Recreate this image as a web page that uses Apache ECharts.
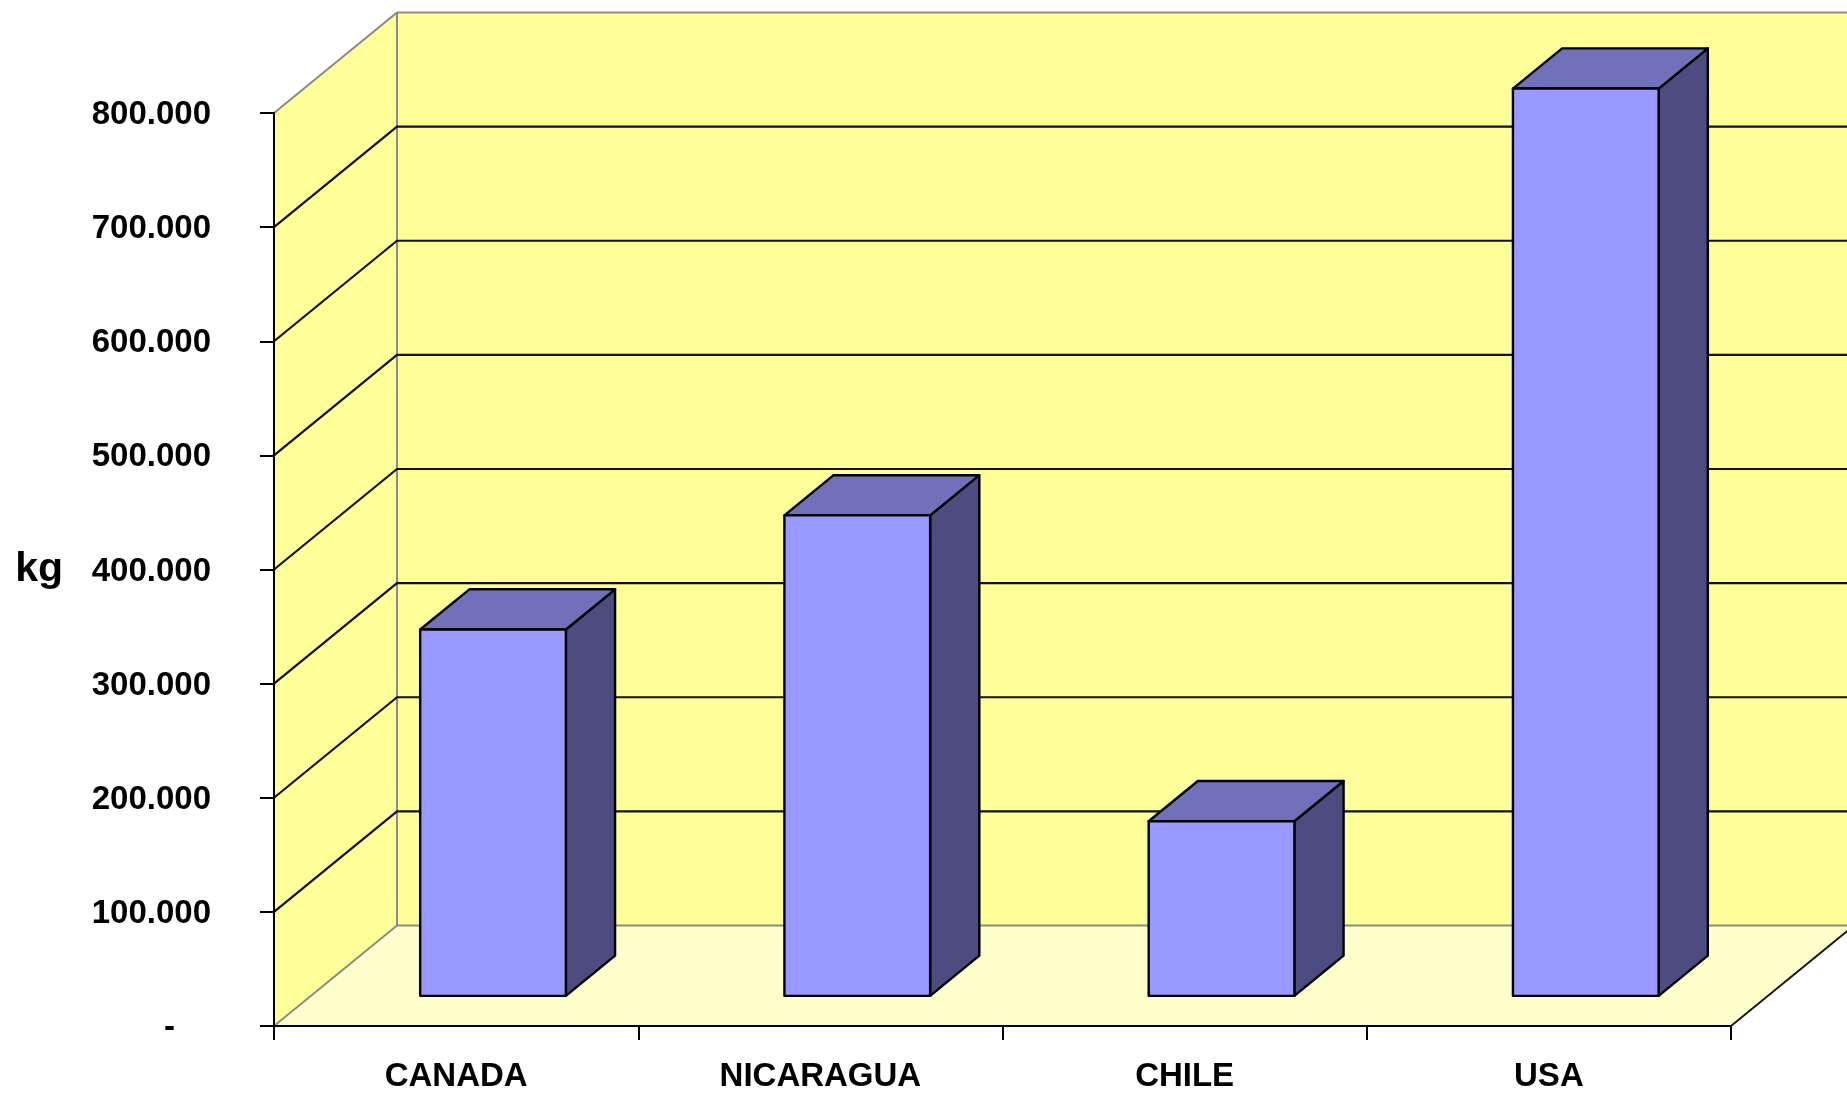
<!DOCTYPE html>
<html>
<head>
<meta charset="utf-8">
<script src="https://cdn.jsdelivr.net/npm/echarts@6/dist/echarts.min.js"></script>
<style>
html,body{margin:0;padding:0;background:#fff;}
#chart{width:1847px;height:1093px;}
</style>
</head>
<body>
<div id="chart"></div>
<script>
// ---- data ----
const categories = ['CANADA', 'NICARAGUA', 'CHILE', 'USA'];
const values = [321000, 421000, 153000, 795000];
const yTicks = [0, 100000, 200000, 300000, 400000, 500000, 600000, 700000, 800000];
const yAxisName = 'kg';

// ---- styling / layout constants ----
const DEPTH = [123, -100.5];      // 3D depth vector of the plot box (px)
const BAR_FRONT = 0.3, BAR_BACK = 0.7, BAR_W = 0.4;
const FONT = '"Liberation Sans", Arial, sans-serif';

function fmt(v) {
  return String(v).replace(/\B(?=(\d{3})+(?!\d))/g, '.');
}

const chart = echarts.init(document.getElementById('chart'), null, {renderer: 'canvas'});

const option = {
  backgroundColor: '#ffffff',
  animation: false,
  grid: {left: 274, right: 116, top: 113, bottom: 66, containLabel: false},
  xAxis: {
    type: 'category',
    data: categories,
    boundaryGap: true,
    z: 10,
    axisLine: {show: true, lineStyle: {color: '#000', width: 2}},
    axisTick: {show: true, length: 14, inside: false, lineStyle: {color: '#000', width: 2}},
    axisLabel: {color: '#000', fontSize: 33, fontWeight: 'bold', fontFamily: FONT, margin: 34},
    splitLine: {show: false}
  },
  yAxis: {
    type: 'value',
    min: 0, max: 800000, interval: 100000,
    z: 10,
    name: yAxisName,
    nameLocation: 'middle',
    nameRotate: 0,
    nameGap: 211,
    nameTextStyle: {color: '#000', fontSize: 41, fontWeight: 'bold', fontFamily: FONT, padding: [6, 0, 0, 0]},
    axisLine: {show: true, lineStyle: {color: '#000', width: 2}},
    axisTick: {show: true, length: 14, inside: false, lineStyle: {color: '#000', width: 2}},
    axisLabel: {
      color: '#000', fontSize: 33, fontWeight: 'bold', fontFamily: FONT, margin: 63,
      padding: [4, 0, 0, 0],
      formatter: function (v) { return v === 0 ? '{z|-}' : fmt(v); },
      rich: {z: {color: '#000', fontSize: 33, fontWeight: 'bold', fontFamily: FONT, padding: [0, 36, 0, 0]}}
    },
    splitLine: {show: false}
  },
  series: [
    {
      // walls and floor
      type: 'custom',
      z: 1,
      silent: true,
      data: [[0, 0]],
      renderItem: function (params, api) {
        const cs = params.coordSys;
        const x0 = cs.x, x1 = cs.x + cs.width;
        const yb = api.coord([0, yTicks[0]])[1];
        const yt = api.coord([0, yTicks[yTicks.length - 1]])[1];
        const dx = DEPTH[0], dy = DEPTH[1];
        const gray = '#8a8a8a';
        return {
          type: 'group',
          children: [
            {type: 'polygon', shape: {points: [[x0 + dx, yt + dy], [x1 + dx + 20, yt + dy], [x1 + dx + 20, yb + dy], [x0 + dx, yb + dy]]},
             style: {fill: '#FFFF99'}},
            {type: 'polygon', shape: {points: [[x0, yb], [x0, yt], [x0 + dx, yt + dy], [x0 + dx, yb + dy]]},
             style: {fill: '#FFFF99'}},
            {type: 'polygon', shape: {points: [[x0, yb], [x0 + dx, yb + dy], [x1 + dx, yb + dy], [x1, yb]]},
             style: {fill: '#FFFFCC'}},
            {type: 'polyline', shape: {points: [[x0, yt], [x0 + dx, yt + dy], [x1 + dx + 20, yt + dy]]},
             style: {stroke: gray, lineWidth: 2, fill: null}},
            {type: 'polyline', shape: {points: [[x0 + dx, yt + dy], [x0 + dx, yb + dy], [x1 + dx + 20, yb + dy]]},
             style: {stroke: gray, lineWidth: 2, fill: null}},
            {type: 'line', shape: {x1: x0, y1: yb, x2: x0 + dx, y2: yb + dy},
             style: {stroke: gray, lineWidth: 2}},
            {type: 'line', shape: {x1: x1, y1: yb, x2: x1 + dx, y2: yb + dy},
             style: {stroke: '#111', lineWidth: 1.8}}
          ]
        };
      }
    },
    {
      // gridlines on side wall and back wall
      type: 'custom',
      z: 2,
      silent: true,
      data: yTicks.slice(1, yTicks.length - 1).map(function (t) { return [0, t]; }),
      renderItem: function (params, api) {
        const cs = params.coordSys;
        const x0 = cs.x, x1 = cs.x + cs.width;
        const y = api.coord([0, api.value(1)])[1];
        const dx = DEPTH[0], dy = DEPTH[1];
        return {
          type: 'polyline',
          shape: {points: [[x0, y], [x0 + dx, y + dy], [x1 + dx + 20, y + dy]]},
          style: {stroke: '#111', lineWidth: 2.2, fill: null}
        };
      }
    },
    {
      // 3D bars
      type: 'custom',
      z: 3,
      data: values.map(function (v, i) { return [i, v]; }),
      renderItem: function (params, api) {
        const idx = api.value(0), v = api.value(1);
        const base = api.coord([idx, 0]);
        const top = api.coord([idx, v]);
        const w = api.size([1, 0])[0];
        const bw = w * BAR_W;
        const fx = BAR_FRONT * DEPTH[0], fy = BAR_FRONT * DEPTH[1];
        const ddx = (BAR_BACK - BAR_FRONT) * DEPTH[0], ddy = (BAR_BACK - BAR_FRONT) * DEPTH[1];
        const xl = base[0] - bw / 2 + fx, xr = xl + bw;
        const yBot = base[1] + fy, yTop = top[1] + fy;
        const stroke = {stroke: '#000', lineWidth: 2.4, lineJoin: 'round'};
        return {
          type: 'group',
          children: [
            {type: 'polygon', shape: {points: [[xr, yTop], [xr + ddx, yTop + ddy], [xr + ddx, yBot + ddy], [xr, yBot]]},
             style: Object.assign({fill: '#4C4C80'}, stroke)},
            {type: 'polygon', shape: {points: [[xl, yTop], [xr, yTop], [xr + ddx, yTop + ddy], [xl + ddx, yTop + ddy]]},
             style: Object.assign({fill: '#7171B9'}, stroke)},
            {type: 'polygon', shape: {points: [[xl, yTop], [xr, yTop], [xr, yBot], [xl, yBot]]},
             style: Object.assign({fill: '#9999FF'}, stroke)}
          ]
        };
      }
    }
  ]
};

chart.setOption(option);
</script>
</body>
</html>
